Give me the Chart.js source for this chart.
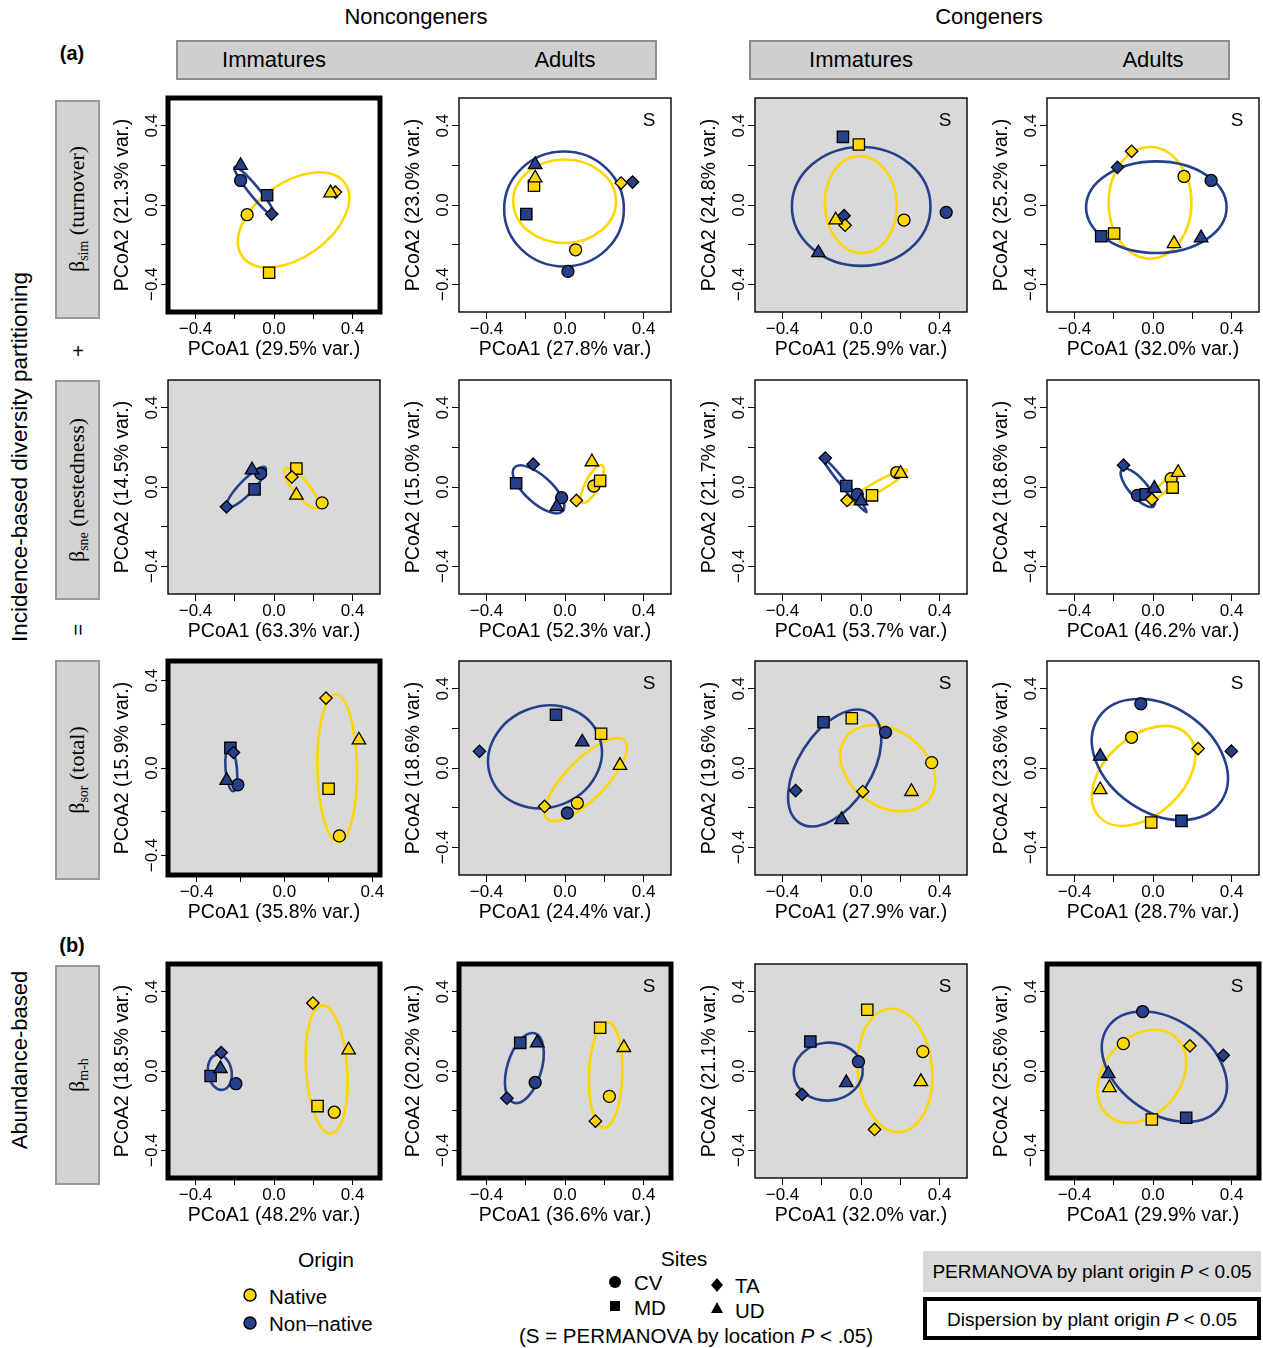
<!DOCTYPE html>
<html>
<head>
<meta charset="utf-8">
<script src="https://cdn.jsdelivr.net/npm/chart.js@4.4.1/dist/chart.umd.min.js"></script>
<style>
  body { margin: 0; background: #fff; }
  #fig { position: relative; width: 1263px; height: 1348px; overflow: hidden;
         font-family: "Liberation Sans", Arial, sans-serif; color: #000; }
  #fig canvas { position: absolute; }
  .t { position: absolute; white-space: nowrap; transform: translate(-50%, -50%); }
  .v { position: absolute; white-space: nowrap; transform: translate(-50%, -50%) rotate(-90deg); }
  .hbox { position: absolute; background: #cfcfcf; border: 2px solid #8e8e8e; box-sizing: border-box; }
  .lbox { position: absolute; background: #d3d3d3; border: 2px solid #9a9a9a; box-sizing: border-box; }
  .serif { font-family: "Liberation Serif", "Times New Roman", serif; font-size: 22px; }
  .serif sub { font-size: 14px; vertical-align: -4px; }
  .lt { position: absolute; white-space: nowrap; transform: translateY(-50%); font-size: 20.5px; }
</style>
</head>
<body>
<div id="fig">
  <div class="t" style="left:416px;top:17px;font-size:22px">Noncongeners</div>
  <div class="t" style="left:989px;top:17px;font-size:22px">Congeners</div>
  <div class="t" style="left:72px;top:53px;font-size:20px;font-weight:bold">(a)</div>
  <div class="t" style="left:72px;top:945px;font-size:20px;font-weight:bold">(b)</div>
  <div class="hbox" style="left:176px;top:40px;width:481px;height:40px"></div>
  <div class="hbox" style="left:749px;top:40px;width:481px;height:40px"></div>
  <div class="t" style="left:274px;top:60px;font-size:22px">Immatures</div>
  <div class="t" style="left:565px;top:60px;font-size:22px">Adults</div>
  <div class="t" style="left:861px;top:60px;font-size:22px">Immatures</div>
  <div class="t" style="left:1153px;top:60px;font-size:22px">Adults</div>

  <div class="v" style="left:20px;top:457px;font-size:22.5px">Incidence-based diversity partitioning</div>
  <div class="v" style="left:20px;top:1060px;font-size:22px">Abundance-based</div>

  <div class="lbox" style="left:55px;top:100px;width:45px;height:219px"></div>
  <div class="v serif" style="left:78px;top:209px">β<sub>sim</sub> (turnover)</div>
  <div class="t" style="left:78px;top:351px;font-size:20px">+</div>
  <div class="lbox" style="left:55px;top:380px;width:45px;height:220px"></div>
  <div class="v serif" style="left:78px;top:490px">β<sub>sne</sub> (nestedness)</div>
  <div class="v" style="left:78px;top:630px;font-size:20px">=</div>
  <div class="lbox" style="left:55px;top:660px;width:45px;height:220px"></div>
  <div class="v serif" style="left:78px;top:770px">β<sub>sor</sub> (total)</div>
  <div class="lbox" style="left:55px;top:965px;width:45px;height:220px"></div>
  <div class="v serif" style="left:78px;top:1075px">β<sub>m-h</sub></div>

  <div class="t" style="left:326px;top:1260px;font-size:21px">Origin</div>
  <svg style="position:absolute;left:240px;top:1285px" width="20" height="50">
    <circle cx="10" cy="10" r="6" fill="#FFD700" stroke="#000" stroke-width="1.5"/>
    <circle cx="10" cy="38" r="6" fill="#27408B" stroke="#000" stroke-width="1.5"/>
  </svg>
  <div class="lt" style="left:269px;top:1297px">Native</div>
  <div class="lt" style="left:269px;top:1324px">Non&#8211;native</div>

  <div class="t" style="left:684px;top:1259px;font-size:21px">Sites</div>
  <svg style="position:absolute;left:605px;top:1272px" width="125" height="50">
    <circle cx="10" cy="10" r="6" fill="#000"/>
    <rect x="5" y="29" width="10" height="10" fill="#000"/>
    <polygon points="112,6 118,13 112,20 106,13" fill="#000"/>
    <polygon points="112,30 118,41 106,41" fill="#000"/>
  </svg>
  <div class="lt" style="left:634px;top:1283px">CV</div>
  <div class="lt" style="left:634px;top:1308px">MD</div>
  <div class="lt" style="left:735px;top:1286px">TA</div>
  <div class="lt" style="left:735px;top:1311px">UD</div>
  <div class="t" style="left:696px;top:1336px;font-size:20.5px">(S = PERMANOVA by location <i>P</i> &lt; .05)</div>

  <div style="position:absolute;left:923px;top:1251px;width:338px;height:41px;background:#d9d9d9"></div>
  <div class="t" style="left:1092px;top:1272px;font-size:19px">PERMANOVA by plant origin <i>P</i> &lt; 0.05</div>
  <div style="position:absolute;left:923px;top:1297px;width:338px;height:43px;border:4px solid #000;box-sizing:border-box"></div>
  <div class="t" style="left:1092px;top:1320px;font-size:19px">Dispersion by plant origin <i>P</i> &lt; 0.05</div>
</div>

<script>
// site order: CV (circle), MD (square), TA (diamond), UD (triangle)
const sites = ["CV", "MD", "TA", "UD"];

// panels: rows A (sim), B (sne), C (sor), D (m-h); columns: noncong imm, noncong adult, cong imm, cong adult
const xTitles = [
  "PCoA1 (29.5% var.)", "PCoA1 (27.8% var.)", "PCoA1 (25.9% var.)", "PCoA1 (32.0% var.)",
  "PCoA1 (63.3% var.)", "PCoA1 (52.3% var.)", "PCoA1 (53.7% var.)", "PCoA1 (46.2% var.)",
  "PCoA1 (35.8% var.)", "PCoA1 (24.4% var.)", "PCoA1 (27.9% var.)", "PCoA1 (28.7% var.)",
  "PCoA1 (48.2% var.)", "PCoA1 (36.6% var.)", "PCoA1 (32.0% var.)", "PCoA1 (29.9% var.)",
];
const yTitles = [
  "PCoA2 (21.3% var.)", "PCoA2 (23.0% var.)", "PCoA2 (24.8% var.)", "PCoA2 (25.2% var.)",
  "PCoA2 (14.5% var.)", "PCoA2 (15.0% var.)", "PCoA2 (21.7% var.)", "PCoA2 (18.6% var.)",
  "PCoA2 (15.9% var.)", "PCoA2 (18.6% var.)", "PCoA2 (19.6% var.)", "PCoA2 (23.6% var.)",
  "PCoA2 (18.5% var.)", "PCoA2 (20.2% var.)", "PCoA2 (21.1% var.)", "PCoA2 (25.6% var.)",
];

const nativeX = [
  [-0.137, -0.025, 0.313, 0.288], [0.054, -0.158, 0.286, -0.152], [0.219, -0.011, -0.081, -0.129], [0.158, -0.198, -0.109, 0.107],
  [0.245, 0.114, 0.091, 0.114], [0.147, 0.179, 0.058, 0.137], [0.182, 0.056, -0.071, 0.202], [0.092, 0.1, -0.006, 0.128],
  [0.25, 0.201, 0.189, 0.339], [0.063, 0.184, -0.104, 0.28], [0.36, -0.047, 0.009, 0.257], [-0.109, -0.009, 0.23, -0.269],
  [0.307, 0.222, 0.198, 0.38], [0.226, 0.179, 0.155, 0.3], [0.315, 0.032, 0.069, 0.305], [-0.151, -0.006, 0.188, -0.222],
];
const nativeY = [
  [-0.049, -0.342, 0.065, 0.061], [-0.226, 0.097, 0.111, 0.136], [-0.076, 0.305, -0.102, -0.076], [0.144, -0.144, 0.271, -0.195],
  [-0.08, 0.093, 0.051, -0.042], [0.005, 0.031, -0.068, 0.127], [0.073, -0.042, -0.068, 0.068], [0.042, -0.003, -0.063, 0.073],
  [-0.311, -0.095, 0.32, 0.128], [-0.177, 0.173, -0.194, 0.013], [0.027, 0.251, -0.119, -0.119], [0.155, -0.275, 0.098, -0.11],
  [-0.208, -0.177, 0.343, 0.106], [-0.128, 0.218, -0.253, 0.118], [0.098, 0.309, -0.295, -0.054], [0.138, -0.245, 0.127, -0.084],
];
const nonNativeX = [
  [-0.17, -0.035, -0.012, -0.17], [0.015, -0.197, 0.344, -0.152], [0.434, -0.092, -0.086, -0.217], [0.296, -0.264, -0.181, 0.245],
  [-0.068, -0.099, -0.242, -0.112], [-0.017, -0.249, -0.162, -0.042], [-0.019, -0.075, -0.182, 0.0], [-0.079, -0.037, -0.15, 0.007],
  [-0.212, -0.246, -0.232, -0.263], [0.012, -0.046, -0.436, 0.088], [0.125, -0.191, -0.333, -0.099], [-0.062, 0.145, 0.399, -0.269],
  [-0.194, -0.323, -0.269, -0.273], [-0.152, -0.228, -0.296, -0.142], [-0.013, -0.258, -0.3, -0.075], [-0.053, 0.169, 0.358, -0.228],
];
const nonNativeY = [
  [0.124, 0.049, -0.046, 0.199], [-0.335, -0.046, 0.116, 0.204], [-0.037, 0.344, -0.054, -0.241], [0.124, -0.158, 0.19, -0.166],
  [0.068, -0.012, -0.1, 0.086], [-0.054, 0.019, 0.115, -0.1], [-0.037, 0.005, 0.146, -0.071], [-0.042, -0.037, 0.11, -0.007],
  [-0.077, 0.092, 0.071, -0.057], [-0.227, 0.269, 0.084, 0.131], [0.18, 0.231, -0.114, -0.261], [0.324, -0.267, 0.085, 0.059],
  [-0.064, -0.025, 0.093, 0.012], [-0.058, 0.142, -0.137, 0.142], [0.047, 0.149, -0.118, -0.059], [0.3, -0.236, 0.079, -0.014],
];

// group ellipses: [centre x, centre y, semi-axis a, semi-axis b, angle in degrees]
const nativeEllipse = [
  [0.10, -0.075, 0.32, 0.189, 35], [-0.002, 0.019, 0.262, 0.211, 0], [-0.001, 0.002, 0.245, 0.183, 93], [-0.015, 0.011, 0.282, 0.211, 90],
  [0.14, -0.006, 0.129, 0.04, -50], [0.139, 0.015, 0.107, 0.035, 62], [0.08, -0.001, 0.177, 0.025, 29.4], [0.062, 0.005, 0.11, 0.022, 43.5],
  [0.24, 0.0, 0.338, 0.09, 91], [0.106, -0.058, 0.279, 0.10, 45], [0.136, -0.001, 0.263, 0.192, -35], [-0.048, -0.04, 0.306, 0.198, 42],
  [0.268, 0.008, 0.324, 0.105, 94], [0.207, -0.02, 0.267, 0.085, 88], [0.173, 0.003, 0.312, 0.19, 95], [-0.057, -0.027, 0.262, 0.194, 48.6],
];
const nonNativeEllipse = [
  [-0.099, 0.068, 0.16, 0.025, -50.7], [-0.005, -0.02, 0.305, 0.29, 0], [0.001, -0.007, 0.353, 0.30, 0], [0.017, -0.011, 0.358, 0.231, 0],
  [-0.141, -0.001, 0.139, 0.035, 45.6], [-0.135, -0.012, 0.165, 0.068, -41.8], [-0.084, 0.011, 0.178, 0.015, -50.8], [-0.077, -0.004, 0.123, 0.045, -49],
  [-0.242, -0.005, 0.102, 0.026, 95], [-0.102, 0.056, 0.294, 0.255, 20], [-0.134, 0.0, 0.33, 0.185, 57], [0.035, 0.043, 0.377, 0.267, -34],
  [-0.276, -0.006, 0.09, 0.06, 100], [-0.207, 0.015, 0.183, 0.087, 73], [-0.167, -0.003, 0.176, 0.146, 5], [0.058, 0.022, 0.35, 0.2375, -34.5],
];

const xMin = [-0.54, -0.54, -0.54, -0.54, -0.54, -0.54, -0.54, -0.54, -0.53, -0.54, -0.54, -0.54, -0.54, -0.54, -0.54, -0.54];
const xMax = [0.54, 0.54, 0.54, 0.54, 0.54, 0.54, 0.54, 0.54, 0.435, 0.54, 0.54, 0.54, 0.54, 0.54, 0.54, 0.54];
const yMin = [-0.54, -0.54, -0.54, -0.54, -0.54, -0.54, -0.54, -0.54, -0.49, -0.54, -0.54, -0.54, -0.54, -0.54, -0.54, -0.54];
const yMax = [0.54, 0.54, 0.54, 0.54, 0.54, 0.54, 0.54, 0.54, 0.49, 0.54, 0.54, 0.54, 0.54, 0.54, 0.54, 0.54];

// significance flags
const originPermanova = [false, false, true, false, true, false, false, false, true, true, true, false, true, true, true, true];
const originDispersion = [true, false, false, false, false, false, false, false, true, false, false, false, true, true, false, true];
const locationPermanova = [false, true, true, true, false, false, false, false, false, true, true, true, false, true, true, true];

// layout
const colLeft = [168, 459, 755, 1047];
const rowTop = [98, 380, 661, 964];
const YELLOW = "#FFD700";
const BLUE = "#27408B";
const FONT = '"Liberation Sans", Arial, sans-serif';
const markerStyles = ["circle", "rect", "rectRot", "triangle"];
const markerRadius = [6, 8, 6.2, 7.8];

let tickLabel = (v) => {
  if (Math.abs(v) < 1e-9) return "0.0";
  if (Math.abs(Math.abs(v) - 0.4) < 1e-9) return (v < 0 ? "\u2212" : "") + "0.4";
  return "";
};

let drawEllipse = (chart, e, color) => {
  const { ctx, scales } = chart;
  const cx = scales.x.getPixelForValue(e[0]);
  const cy = scales.y.getPixelForValue(e[1]);
  const kx = scales.x.getPixelForValue(1) - scales.x.getPixelForValue(0);
  const ky = scales.y.getPixelForValue(0) - scales.y.getPixelForValue(1);
  ctx.save();
  ctx.beginPath();
  ctx.save();
  ctx.translate(cx, cy);
  ctx.scale(kx, -ky);
  ctx.rotate((e[4] * Math.PI) / 180);
  ctx.ellipse(0, 0, e[2], e[3], 0, 0, Math.PI * 2);
  ctx.restore();
  ctx.strokeStyle = color;
  ctx.lineWidth = 2.6;
  ctx.stroke();
  ctx.restore();
};

let panelPlugin = {
  id: "panelDecor",
  beforeDraw(chart) {
    const i = chart.options.panelIndex;
    const a = chart.chartArea;
    if (originPermanova[i]) {
      chart.ctx.save();
      chart.ctx.fillStyle = "#d9d9d9";
      chart.ctx.fillRect(a.left, a.top, a.right - a.left, a.bottom - a.top);
      chart.ctx.restore();
    }
  },
  beforeDatasetsDraw(chart) {
    const i = chart.options.panelIndex;
    drawEllipse(chart, nativeEllipse[i], YELLOW);
    drawEllipse(chart, nonNativeEllipse[i], BLUE);
  },
  afterDraw(chart) {
    const i = chart.options.panelIndex;
    const a = chart.chartArea;
    const ctx = chart.ctx;
    ctx.save();
    ctx.strokeStyle = "#000";
    ctx.lineWidth = originDispersion[i] ? 5 : 1.4;
    ctx.strokeRect(a.left, a.top, a.right - a.left, a.bottom - a.top);
    if (locationPermanova[i]) {
      ctx.fillStyle = "#000";
      ctx.font = "19px " + FONT;
      ctx.textAlign = "center";
      ctx.textBaseline = "middle";
      ctx.fillText("S", a.right - 22, a.top + 23);
    }
    ctx.restore();
  },
};

let makePanel = (i) => {
  const row = Math.floor(i / 4);
  const col = i % 4;
  const canvas = document.createElement("canvas");
  canvas.width = 282;
  canvas.height = 276;
  canvas.style.left = colLeft[col] - 60 + "px";
  canvas.style.top = rowTop[row] - 10 + "px";
  document.getElementById("fig").appendChild(canvas);

  const points = (xs, ys) => xs.map((x, k) => ({ x: x, y: ys[k] }));
  const dataset = (label, xs, ys, color) => ({
    label: label,
    data: points(xs, ys),
    backgroundColor: color,
    borderColor: "#000",
    borderWidth: 1.3,
    pointStyle: markerStyles,
    pointRadius: markerRadius,
  });

  const tickFont = { family: FONT, size: 17 };
  const titleFont = { family: FONT, size: 19.5 };

  new Chart(canvas, {
    type: "scatter",
    data: {
      datasets: [
        dataset("Native", nativeX[i], nativeY[i], YELLOW),
        dataset("Non-native", nonNativeX[i], nonNativeY[i], BLUE),
      ],
    },
    options: {
      panelIndex: i,
      responsive: false,
      animation: false,
      events: [],
      layout: { padding: { top: 10, right: 10, left: 0, bottom: 0 } },
      plugins: { legend: { display: false }, tooltip: { enabled: false } },
      scales: {
        x: {
          type: "linear",
          min: xMin[i],
          max: xMax[i],
          afterFit: (s) => { s.height = 52; },
          border: { display: false },
          grid: { drawOnChartArea: false, drawTicks: true, tickLength: 7, color: "#000", lineWidth: 1 },
          ticks: { stepSize: 0.2, includeBounds: false, autoSkip: false, maxRotation: 0, padding: 0,
                   color: "#000", font: tickFont, callback: tickLabel },
          title: { display: true, text: xTitles[i], color: "#000", font: titleFont, padding: { top: 0, bottom: 3 } },
        },
        y: {
          type: "linear",
          min: yMin[i],
          max: yMax[i],
          afterFit: (s) => { s.width = 60; },
          border: { display: false },
          grid: { drawOnChartArea: false, drawTicks: true, tickLength: 7, color: "#000", lineWidth: 1 },
          ticks: { stepSize: 0.2, includeBounds: false, autoSkip: false, minRotation: 90, maxRotation: 90,
                   crossAlign: "center", padding: -8, color: "#000", font: tickFont, callback: tickLabel },
          title: { display: true, text: yTitles[i], color: "#000", font: titleFont, padding: { top: 3, bottom: 0 } },
        },
      },
    },
    plugins: [panelPlugin],
  });
};

for (let i = 0; i < 16; i++) makePanel(i);
</script>
</body>
</html>
